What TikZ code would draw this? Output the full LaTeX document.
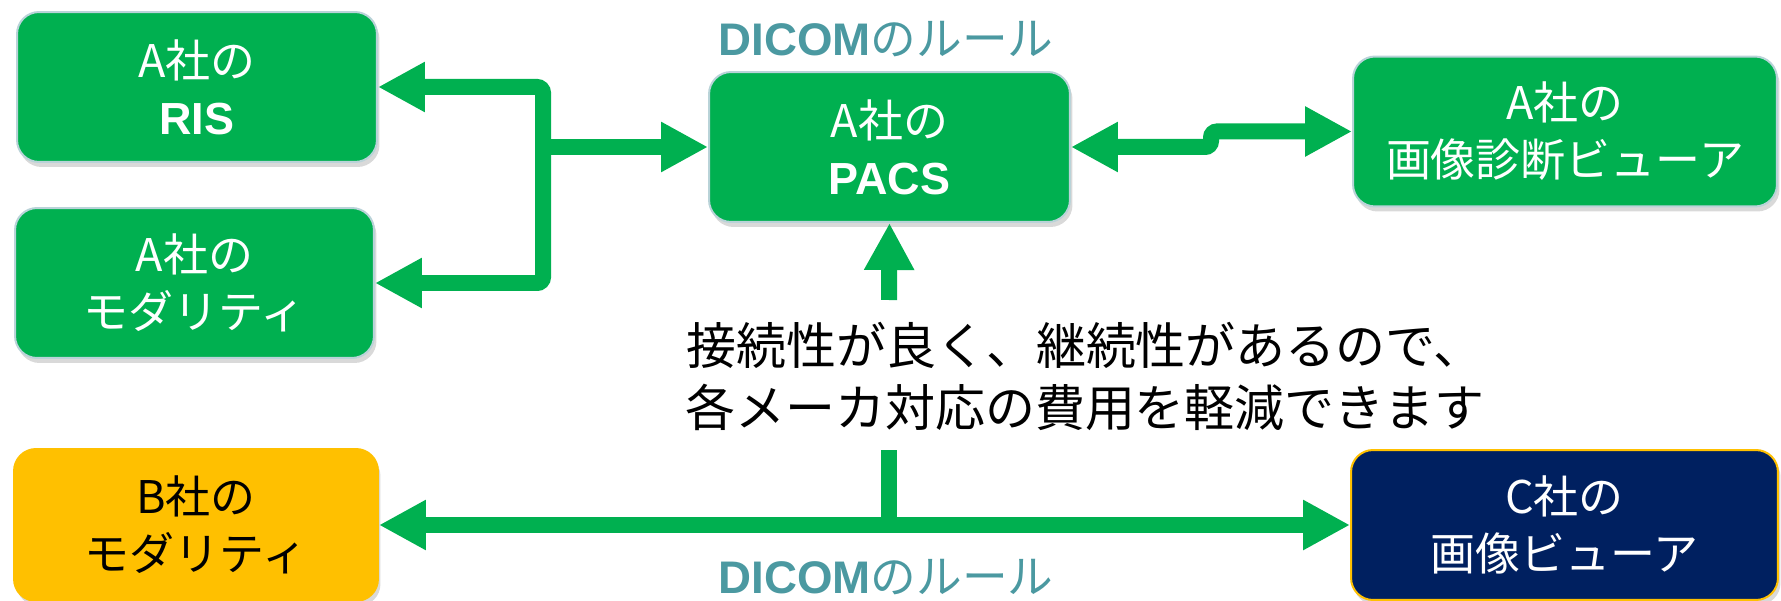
\documentclass[tikz,border=0pt]{standalone}
\usepackage{fontspec}
\setmainfont{Noto Sans CJK JP}
\newfontfamily\arialb{Liberation Sans}
\usetikzlibrary{arrows.meta,shadows}

\definecolor{boxgreen}{HTML}{00B050}
\definecolor{rimblue}{HTML}{B9D3D8}
\definecolor{dicomteal}{HTML}{4B99A1}
\definecolor{bgold}{HTML}{FFC000}
\definecolor{cnavy}{HTML}{002060}

\tikzset{
  unit/.style={rounded corners=0.44cm, line width=0.04cm, align=center, inner sep=0pt,
    minimum height=3cm, font=\fontsize{25.6pt}{32.4pt}\selectfont,
    drop shadow={shadow xshift=0.05cm, shadow yshift=-0.1cm, opacity=0.3}},
  greenunit/.style={unit, fill=boxgreen, draw=rimblue, text=white},
  link/.style={draw=boxgreen, line width=0.32cm, rounded corners=0.12cm},
  rule/.style={text=dicomteal, font=\fontsize{26pt}{30pt}\selectfont, inner sep=0pt},
}

\begin{document}
\begin{tikzpicture}[x=0.02cm, y=-0.02cm, >={Triangle[length=0.94cm,width=0.94cm]}]
\useasboundingbox (0,0) rectangle (1781,601);
\clip (0,0) rectangle (1781,601);
% systems of company A
\node[greenunit, minimum width=7.2cm] (ris) at (197,87) {A社の\\{\arialb\bfseries RIS}};
\node[greenunit, minimum width=7.18cm] (mod) at (194.5,283) {A社の\\モダリティ};
\node[greenunit, minimum width=7.22cm] (pacs) at (889.5,147) {A社の\\{\arialb\bfseries PACS}};
\node[greenunit, minimum width=8.48cm] (viewer) at (1565,131.5) {A社の\\画像診断ビューア};
% other makers
\node[unit, fill=bgold, draw=bgold, text=black, minimum width=7.28cm, minimum height=3.04cm] (bmod) at (196,525) {B社の\\モダリティ};
\node[unit, fill=cnavy, draw=bgold, text=white, minimum width=8.54cm] (cview) at (1564.5,525) {C社の\\画像ビューア};
% labels
\node[rule] (ruletop) at (886,39) {{\arialb\bfseries DICOM}のルール};
\node[rule] (rulebot) at (886,577) {{\arialb\bfseries DICOM}のルール};
\node[align=center, font=\fontsize{28.45pt}{35.3pt}\selectfont] (note) at (1085,376)
  {接続性が良く、継続性があるので、\\各メーカ対応の費用を軽減できます};
% connectors
\coordinate (hub) at (543,147);
\coordinate (jog) at (1211,0);
\coordinate (upfoot) at (889,300);
\coordinate (downtop) at (889,450);
\draw[link,->] (hub) |- (ris.east);
\draw[link,->] (hub) |- (mod.east);
\draw[link,->] (hub) -- (pacs.west);
\draw[link,<->] (pacs.east) -- (pacs.east -| jog) |- (viewer.west);
\draw[link,->] (upfoot) -- (pacs.south);
\draw[link] (downtop) -- (downtop |- bmod.east);
\draw[link,<->] (bmod.east) -- (cview.west);
\end{tikzpicture}
\end{document}
